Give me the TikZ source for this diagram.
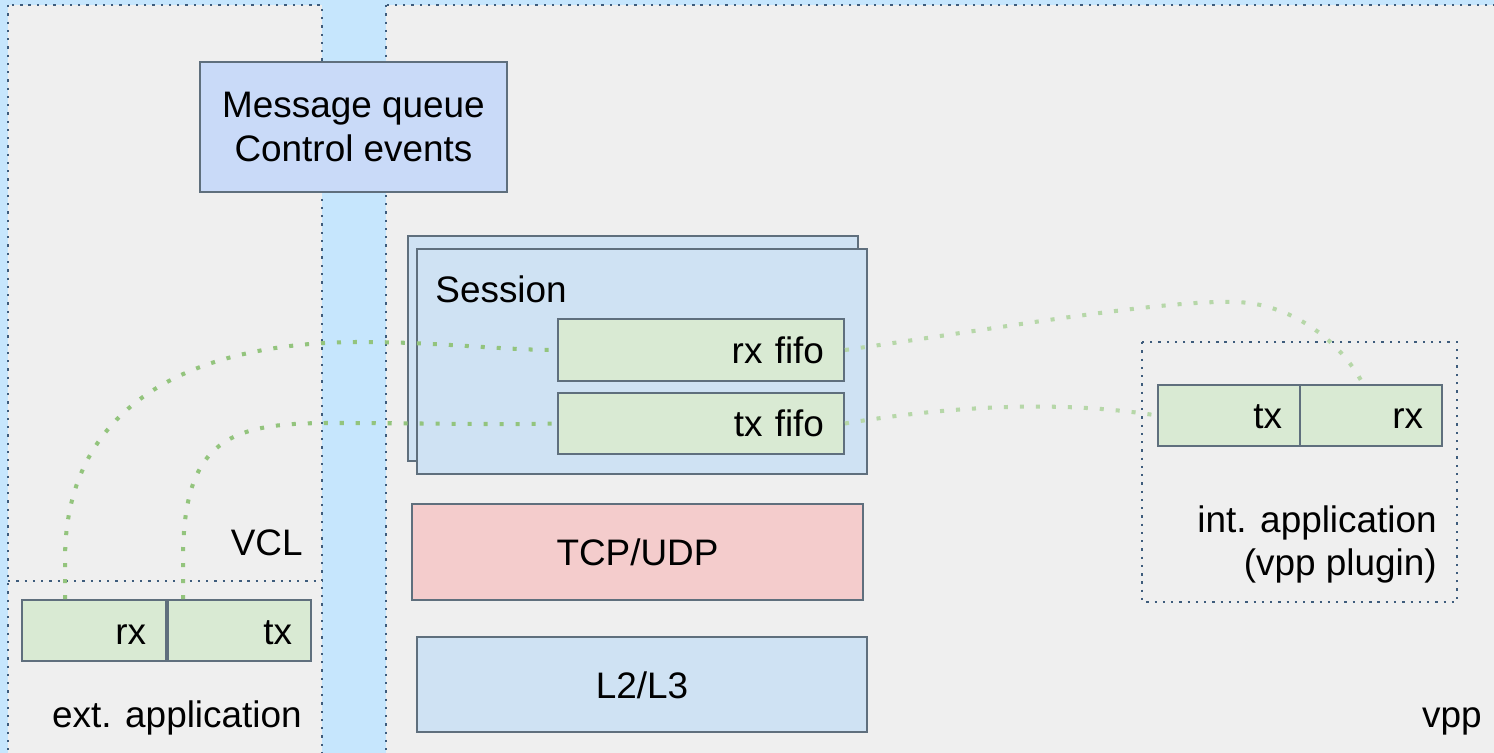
\documentclass[tikz,border=0pt]{standalone}
\usepackage{fontspec}
\setmainfont{Liberation Sans}
\usetikzlibrary{calc}
\definecolor{strip}{HTML}{C6E6FD}
\definecolor{panel}{HTML}{EFEFEF}
\definecolor{panelline}{HTML}{3E5C7C}
\definecolor{boxline}{HTML}{5F6F7D}
\definecolor{mqfill}{HTML}{C9DAF8}
\definecolor{layerfill}{HTML}{CFE2F3}
\definecolor{fifofill}{HTML}{D9EAD3}
\definecolor{tcpfill}{HTML}{F4CCCC}
\definecolor{linkdark}{HTML}{93C47D}
\definecolor{linklight}{HTML}{B6D7A8}

\begin{document}
\begin{tikzpicture}[x=0.02cm,y=-0.02cm,
  every node/.style={font=\fontsize{21pt}{24.8pt}\selectfont, text=black},
  panelborder/.style={draw=panelline, line width=1.3pt, dash pattern=on 1.3pt off 3.4pt},
  framed/.style={draw=boxline, line width=1.1pt, rectangle, inner sep=0pt},
  block/.style={framed, text height=0.54cm, text depth=0pt, align=center},
  slot/.style={block, fill=fifofill, align=right},
  link/.style={line width=2.3pt, dash pattern=on 2.3pt off 6.8pt},
  caption/.style={inner sep=0pt}
]
\useasboundingbox (0,0) rectangle (1494,753);
\clip (0,0) rectangle (1494,753);

% backdrop and the two address-space panels
\fill[strip] (0,0) rectangle (1494,753);
\draw[panelborder, fill=panel] (8,5) rectangle (322,780);
\draw[panelborder, fill=panel] (386,5) rectangle (1520,780);
\draw[panelborder] (8,581) -- (322,581);
\draw[panelborder] (1142,342) rectangle (1457,602);

% message queue
\node[framed, fill=mqfill, minimum width=6.14cm, minimum height=2.6cm, align=center]
  (msgq) at (353.5,127) {Message queue\\Control events};

% session stack
\node[framed, fill=layerfill, minimum width=9cm, minimum height=4.5cm] (sessback) at (633,348.5) {};
\node[framed, fill=layerfill, minimum width=9cm, minimum height=4.5cm] (sess) at (642,361.5) {};
\node[caption, anchor=base west] (sesslabel) at ($(sess.north west)+(19,54)$) {Session};
\node[slot, minimum width=5.72cm, minimum height=1.24cm, text width=4.92cm, inner xsep=0.4cm]
  (rxfifo) at (701,350) {rx fifo};
\node[slot, minimum width=5.72cm, minimum height=1.22cm, text width=4.92cm, inner xsep=0.4cm]
  (txfifo) at (701,423.5) {tx fifo};

% transport and lower layers
\node[block, fill=tcpfill, minimum width=9.02cm, minimum height=1.92cm] (tcp) at (637.5,552) {TCP/UDP};
\node[block, fill=layerfill, minimum width=9cm, minimum height=1.9cm] (l2l3) at (642,684.5) {L2/L3};

% external application fifos
\node[slot, minimum width=2.88cm, minimum height=1.22cm, text width=2.08cm, inner xsep=0.4cm]
  (extrx) at (94,630.5) {rx};
\node[slot, minimum width=2.86cm, minimum height=1.22cm, text width=2.1cm, inner xsep=0.38cm]
  (exttx) at (239.5,630.5) {tx};

% internal application fifos
\node[slot, minimum width=2.84cm, minimum height=1.22cm, text width=2.12cm, inner xsep=0.36cm]
  (inttx) at (1229,415.5) {tx};
\node[slot, minimum width=2.84cm, minimum height=1.22cm, text width=2.08cm, inner xsep=0.38cm]
  (intrx) at (1371,415.5) {rx};

% captions
\node[caption, anchor=base east] (vcl) at (303,555) {VCL};
\node[caption, anchor=base east] (extapp) at (302,727) {ext. application};
\node[caption, anchor=north east, align=right] (intapp) at (1437,505) {int. application\\(vpp plugin)};
\node[caption, anchor=base east] (vpp) at (1482,727) {vpp};

% shared fifo links
\draw[link, draw=linkdark] ($(extrx.north west)+(44,0)$) -- ++(0,-40)
  .. controls +(0,-160) and (200,342) .. (360,342)
  .. controls (440,342) and (500,350) .. (rxfifo.west);
\draw[link, draw=linkdark] ($(exttx.north west)+(16,0)$) -- ++(0,-40)
  .. controls +(0,-120) and (230,423) .. (330,423)
  .. controls (420,423) and (500,425) .. (txfifo.west);
\draw[link, draw=linklight] (rxfifo.east)
  .. controls (1000,328) and (1160,300) .. (1235,302)
  .. controls (1290,303) and (1340,340) .. ($(intrx.north)+(-8,0)$);
\draw[link, draw=linklight] (txfifo.east)
  .. controls (950,406) and (1060,400) .. (inttx.west);
\end{tikzpicture}
\end{document}
